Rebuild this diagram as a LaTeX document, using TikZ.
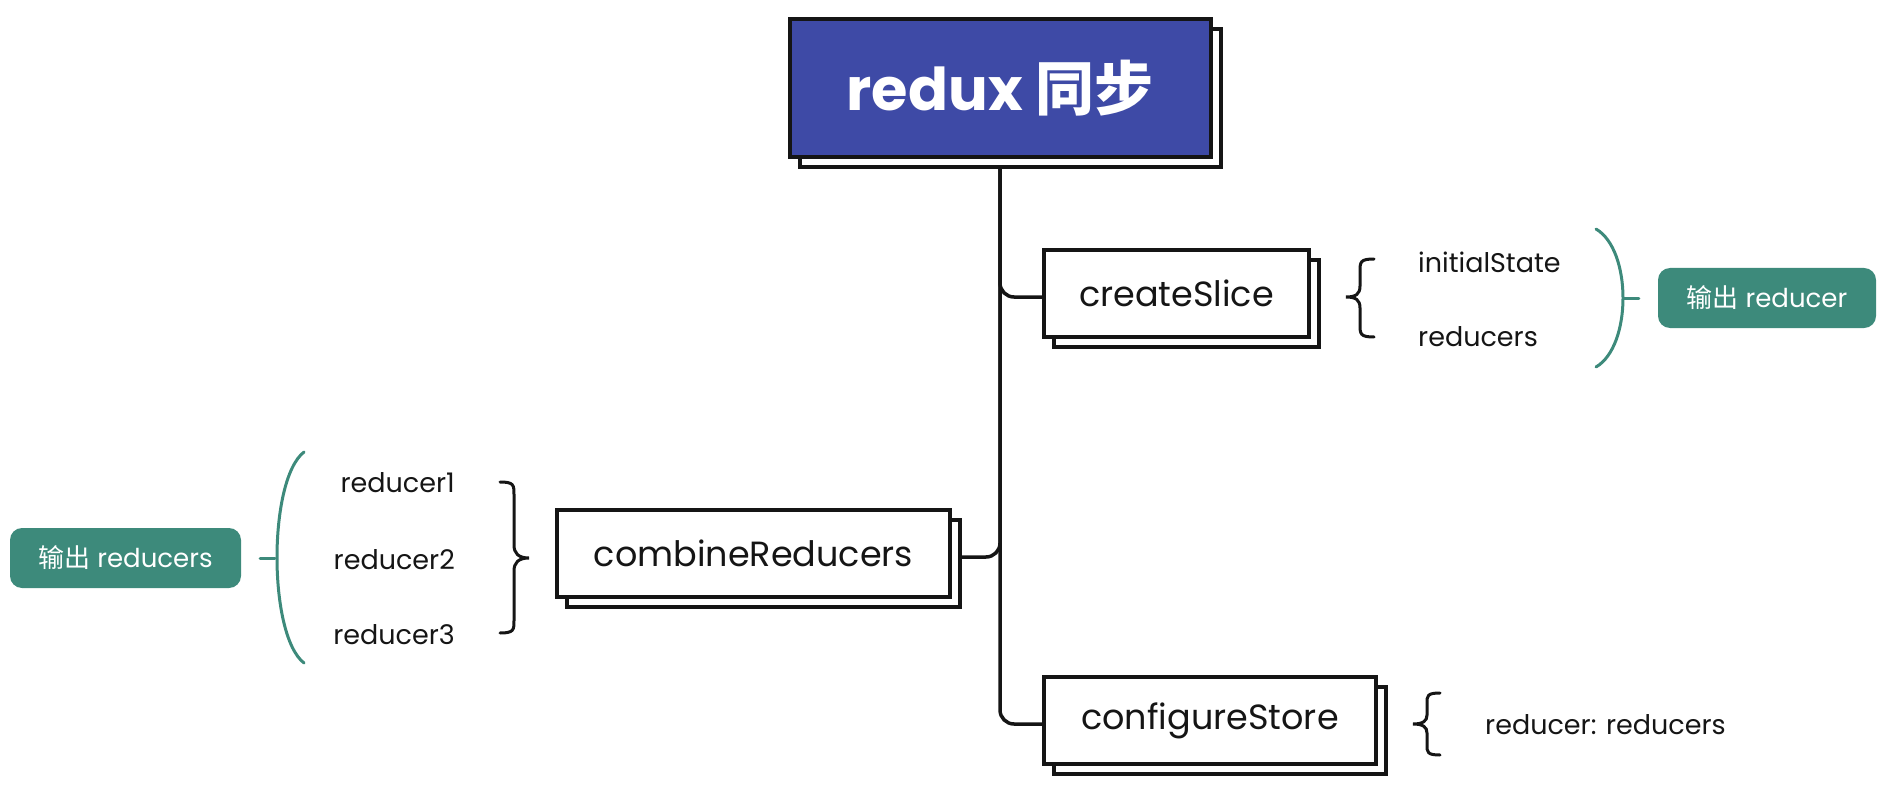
\documentclass[tikz,border=0pt]{standalone}
\usepackage{fontspec}
\setmainfont{Poppins}
\newfontfamily\cjk{Noto Sans CJK SC}
\usetikzlibrary{shadows,backgrounds}
\definecolor{rootblue}{HTML}{3E4AA6}
\definecolor{tealc}{HTML}{3D8A7B}
\definecolor{ink}{HTML}{151515}
\begin{document}
\begin{tikzpicture}[x=1pt,y=-1pt,
  box/.style={draw=ink, line width=4pt, fill=white, minimum height=87pt, inner sep=0pt,
    font=\fontsize{35}{40}\selectfont, text=ink,
    general shadow={shadow xshift=10pt, shadow yshift=-10pt, draw=ink, fill=white, line width=4pt}},
  rootbox/.style={box, fill=rootblue, text=white, minimum width=421pt, minimum height=138pt,
    font=\fontsize{59}{64}\selectfont\bfseries},
  conn/.style={draw=ink, line width=3.5pt, rounded corners=14pt},
  bracel/.style={draw=ink, line width=3pt, line cap=round},
  paren/.style={draw=tealc, line width=3pt, line cap=round},
  item/.style={font=\fontsize{27}{30}\selectfont, text=ink, inner sep=0pt},
  tag/.style={fill=tealc, rounded corners=12pt, text=white, minimum height=60pt, inner sep=0pt,
    font=\fontsize{26}{30}\selectfont},
]
\useasboundingbox (0,0) rectangle (1892,794);

% main nodes
\node[rootbox] (root) at (1000,88) {redux {\cjk\bfseries 同步}};
\node[box, minimum width=265pt] (cs) at (1176.5,293.5) {createSlice};
\node[box, minimum width=393pt] (cr) at (753.5,553.5) {combineReducers};
\node[box, minimum width=332pt] (cf) at (1210,720.5) {configureStore};

% connectors
\begin{scope}[on background layer]
\draw[conn] (root.center) |- ([yshift=-3.5pt]cs.center);
\draw[conn] (root.center) |- ([yshift=-3.5pt]cf.center);
\draw[conn] (root.center) |- ([yshift=-3.5pt]cr.center);
\end{scope}

% createSlice details
\node[item, anchor=west] (is) at (1418,262) {initialState};
\node[item, anchor=west] (rs) at (1418,337) {reducers};
\draw[bracel] (1374,259) .. controls (1360,259) and (1360,262) .. (1360,272) -- (1360,286)
  .. controls (1360,294) and (1356,297) .. (1346,297)
  .. controls (1356,297) and (1360,300) .. (1360,308) -- (1360,324)
  .. controls (1360,334) and (1360,337) .. (1374,337);
\draw[paren] (1596,229) .. controls (1632,250) and (1632,346) .. (1596,367);
\node[tag, minimum width=218pt] (t1) at (1767,298) {{\cjk 输出} reducer};
\draw[paren] (1624,298) -- ([xshift=-19pt]t1.west);

% combineReducers details
\node[item, anchor=east] (r1) at (455,483) {reducer1};
\node[item, anchor=east] (r2) at (455,560) {reducer2};
\node[item, anchor=east] (r3) at (455,635) {reducer3};
\draw[bracel] (500,482) .. controls (514,482) and (514,485) .. (514,495) -- (514,545)
  .. controls (514,553) and (518,558) .. (529,558)
  .. controls (518,558) and (514,563) .. (514,571) -- (514,620)
  .. controls (514,630) and (514,633) .. (500,633);
\draw[paren] (304,452) .. controls (268,480) and (268,635) .. (304,663);
\node[tag, minimum width=231pt] (t2) at (125.5,558) {{\cjk 输出} reducers};
\draw[paren] (275,558) -- ([xshift=19pt]t2.east);

% configureStore details
\node[item, anchor=west] (rr) at (1485,725) {reducer: reducers};
\draw[bracel] (1440,693) .. controls (1427,693) and (1427,696) .. (1427,703) -- (1427,715)
  .. controls (1427,721) and (1423,724) .. (1413,724)
  .. controls (1423,724) and (1427,727) .. (1427,733) -- (1427,745)
  .. controls (1427,752) and (1427,755) .. (1440,755);
\end{tikzpicture}
\end{document}
